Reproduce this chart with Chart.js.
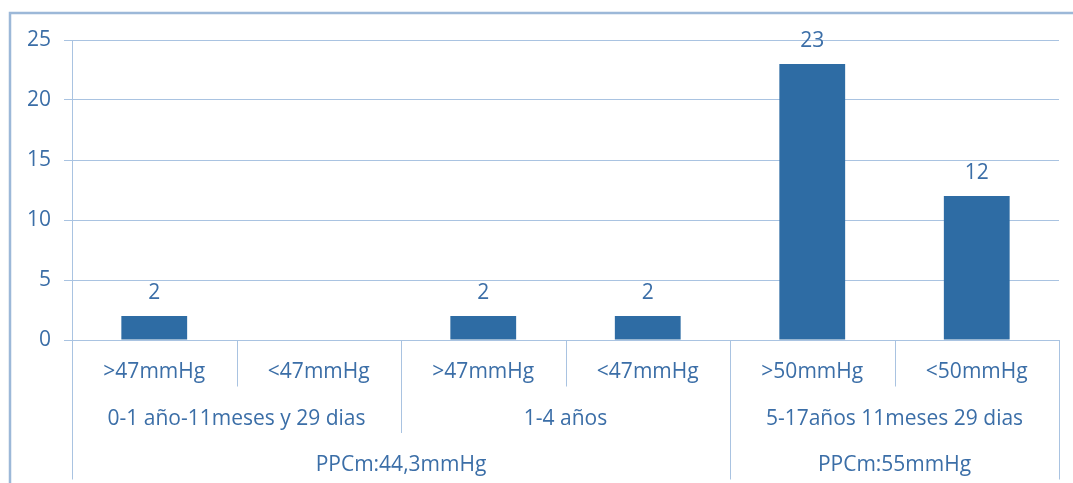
<!DOCTYPE html>
<html lang="es">
<head>
    <meta charset="UTF-8">
    <title>PPCm por grupo de edad</title>
    <script src="https://cdn.jsdelivr.net/npm/chart.js@4.4.1/dist/chart.umd.min.js"></script>
    <style>
        html, body { margin: 0; padding: 0; background: #fff; }
        #wrap { width: 1073px; height: 483px; }
    </style>
</head>
<body>
    <div id="wrap"><canvas id="chart" width="1073" height="483"></canvas></div>

    <script>
        // categories (bottom row), then the two grouping rows below it
        var categories = [">47mmHg", "<47mmHg", ">47mmHg", "<47mmHg", ">50mmHg", "<50mmHg"];
        var values = [2, null, 2, 2, 23, 12];
        var ageGroups = ["0-1 año-11meses y 29 dias", "1-4 años", "5-17años 11meses 29 dias"];
        var ageSpans = [2, 2, 2];
        var ppcGroups = ["PPCm:44,3mmHg", "PPCm:55mmHg"];
        var ppcSpans = [4, 2];
        var yTicks = [0, 5, 10, 15, 20, 25];

        var textColor = "#3b6ea7";
        var lineColor = "#a9c3e1";
        var fontFamily = "'Open Sans', sans-serif";
        var fontSize = 21;

        // frame around the chart (top and left edge only are visible)
        var framePlugin = {
            id: "frame",
            beforeDraw: function (chart) {
                var ctx = chart.ctx;
                ctx.save();
                ctx.strokeStyle = "#9cb8d8";
                ctx.lineWidth = 2.5;
                ctx.beginPath();
                ctx.moveTo(10, chart.height);
                ctx.lineTo(10, 13);
                ctx.lineTo(chart.width, 13);
                ctx.stroke();
                ctx.restore();
            }
        };

        // value labels above bars
        var valueLabels = {
            id: "valueLabels",
            afterDatasetsDraw: function (chart) {
                var ctx = chart.ctx;
                var meta = chart.getDatasetMeta(0);
                ctx.save();
                ctx.fillStyle = textColor;
                ctx.font = fontSize + "px " + fontFamily;
                ctx.textAlign = "center";
                ctx.textBaseline = "alphabetic";
                meta.data.forEach(function (bar, i) {
                    if (values[i] === null) return;
                    ctx.fillText(String(values[i]), bar.x, bar.y - 17);
                });
                ctx.restore();
            }
        };

        // multi-level category axis
        var groupAxis = {
            id: "groupAxis",
            afterDraw: function (chart) {
                var ctx = chart.ctx;
                var x = chart.scales.x;
                var area = chart.chartArea;
                var base = area.bottom;
                var rowH = 46.5;
                var n = categories.length;

                function edge(i) {
                    if (i <= 0) return area.left;
                    if (i >= n) return area.right;
                    return (x.getPixelForValue(i - 1) + x.getPixelForValue(i)) / 2;
                }

                ctx.save();
                ctx.strokeStyle = lineColor;
                ctx.lineWidth = 1;
                ctx.fillStyle = textColor;
                ctx.font = fontSize + "px " + fontFamily;
                ctx.textAlign = "center";
                ctx.textBaseline = "middle";

                function vline(px, depth) {
                    var xx = Math.round(px) + 0.5;
                    ctx.beginPath();
                    ctx.moveTo(xx, base);
                    ctx.lineTo(xx, base + rowH * depth);
                    ctx.stroke();
                }

                // how deep a boundary line goes: the highest level it separates
                var depth = new Array(n + 1).fill(1);
                depth[0] = 3; depth[n] = 3;
                var k = 0;
                ageSpans.forEach(function (s) { k += s; depth[k] = Math.max(depth[k], 2); });
                k = 0;
                ppcSpans.forEach(function (s) { k += s; depth[k] = 3; });

                for (var i = 0; i <= n; i++) vline(edge(i), depth[i]);

                categories.forEach(function (c, i) {
                    ctx.fillText(c, x.getPixelForValue(i), base + rowH * 0.5 + 9);
                });

                function drawRow(labels, spans, row) {
                    var start = 0;
                    labels.forEach(function (lab, j) {
                        var l = edge(start), r = edge(start + spans[j]);
                        ctx.fillText(lab, (l + r) / 2, base + rowH * (row + 0.5) + 9);
                        start += spans[j];
                    });
                }
                drawRow(ageGroups, ageSpans, 1);
                drawRow(ppcGroups, ppcSpans, 2);
                ctx.restore();
            }
        };

        new Chart(document.getElementById("chart"), {
            type: "bar",
            data: {
                labels: categories,
                datasets: [{
                    data: values,
                    backgroundColor: "#2e6ca4",
                    borderWidth: 0,
                    categoryPercentage: 1,
                    barPercentage: 0.4
                }]
            },
            options: {
                responsive: false,
                animation: false,
                devicePixelRatio: 1,
                layout: { padding: { left: 10, top: 40, right: 14, bottom: 0 } },
                plugins: { legend: { display: false }, tooltip: { enabled: false } },
                scales: {
                    x: {
                        ticks: { display: false },
                        grid: { display: false },
                        border: { display: false },
                        afterFit: function (scale) { scale.height = 143; }
                    },
                    y: {
                        min: 0,
                        max: 25,
                        afterBuildTicks: function (scale) {
                            scale.ticks = yTicks.map(function (v) { return { value: v }; });
                        },
                        ticks: {
                            color: textColor,
                            font: { family: "'Open Sans', sans-serif", size: fontSize },
                            padding: 13
                        },
                        grid: { color: lineColor, lineWidth: 1, tickLength: 8 },
                        border: { color: lineColor, width: 1 },
                        afterFit: function (scale) { scale.width = 62; }
                    }
                }
            },
            plugins: [framePlugin, valueLabels, groupAxis]
        });
    </script>
</body>
</html>
